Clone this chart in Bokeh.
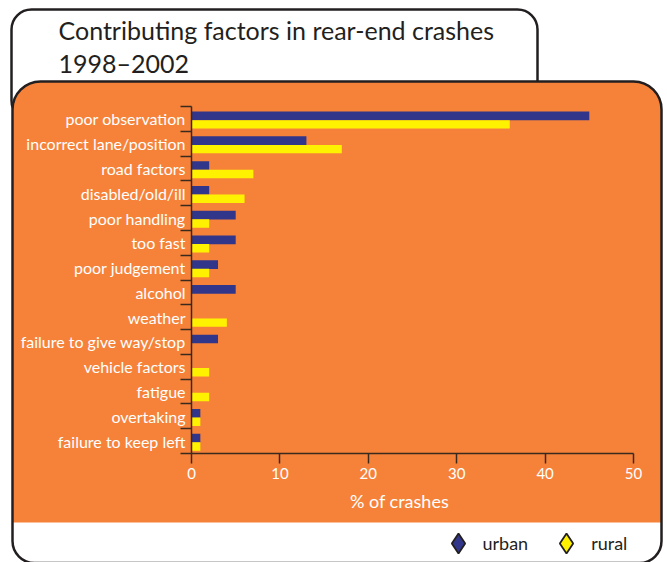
from bokeh.plotting import figure
from bokeh.models import (ColumnDataSource, Range1d, FixedTicker, BoxAnnotation,
                          Label, Legend, LegendItem)
from bokeh.transform import dodge
from bokeh.embed import file_html
from bokeh.resources import INLINE

# ---------------- data ----------------
categories = ["poor observation", "incorrect lane/position", "road factors",
              "disabled/old/ill", "poor handling", "too fast", "poor judgement",
              "alcohol", "weather", "failure to give way/stop", "vehicle factors",
              "fatigue", "overtaking", "failure to keep left"]
urban = [45, 13, 2, 2, 5, 5, 3, 5, 0, 3, 0, 0, 1, 1]
rural = [36, 17, 7, 6, 2, 2, 2, 0, 4, 0, 2, 2, 1, 1]
x_ticks = [0, 10, 20, 30, 40, 50]
series_names = ["urban", "rural"]
title_lines = ["Contributing factors in rear-end crashes", "1998\u20132002"]
x_label = "% of crashes"

# ---------------- style / layout ----------------
ORANGE = "#F6823A"
NAVY = "#31368A"
YELLOW = "#FFF200"
DARK = "#3a2a1e"
INK = "#231f20"
FONT = "Lato"

W, H = 667, 562
PL, PR, PT, PB = 191, 633, 106, 453      # plotting area in canvas pixels
X0, X1 = x_ticks[0], x_ticks[-1]

n = len(categories)
pos = [n - 1 - i for i in range(n)]
Y0, Y1 = -0.5, n - 0.5

kx = (PR - PL) / (X1 - X0)
ky = (PB - PT) / (Y1 - Y0)
x_range = Range1d(X0 - PL / kx, X1 + (W - PR) / kx)
y_range = Range1d(Y0 - (H - PB) / ky, Y1 + PT / ky)

source = ColumnDataSource(dict(y=pos, cat=categories, urban=urban, rural=rural))

p = figure(width=W, height=H, x_range=x_range, y_range=y_range,
           output_backend="svg", toolbar_location=None,
           min_border=0, background_fill_color="white", border_fill_color="white",
           outline_line_color=None)
p.title.visible = False
p.xgrid.visible = False
p.ygrid.visible = False


def sbox(l, t, r, b, **kw):
    # canvas pixel box (top-left origin) -> frame screen units
    return BoxAnnotation(left=l, right=r, top=H - t, bottom=H - b,
                         left_units="screen", right_units="screen",
                         top_units="screen", bottom_units="screen",
                         level="underlay", fill_alpha=1, line_alpha=1, **kw)


p.add_layout(sbox(11, 9, 537, 120, fill_color="white", line_color=INK,
                  line_width=2.5, border_radius=20))
p.add_layout(sbox(12, 81, 661, 522, fill_color=ORANGE, line_color=None,
                  border_radius=(28, 28, 0, 0)))
p.add_layout(sbox(12, 81, 661, 562.5, fill_color=None, line_color=INK,
                  line_width=2.5, border_radius=(28, 28, 22, 22)))

# bars
p.hbar(y=dodge("y", 0.12), left=0, right="urban", height=0.35, source=source,
       fill_color=NAVY, line_color=None)
p.hbar(y=dodge("y", -0.22), left=0, right="rural", height=0.34, source=source,
       fill_color=YELLOW, line_color=None)

# x axis
xa = p.xaxis[0]
xa.fixed_location = Y0
xa.bounds = (X0, X1)
xa.ticker = FixedTicker(ticks=x_ticks)
xa.axis_line_color = DARK
xa.axis_line_width = 1.5
xa.major_tick_line_color = DARK
xa.major_tick_line_width = 1.5
xa.major_tick_out = 10
xa.major_tick_in = 0
xa.minor_tick_line_color = None
xa.major_label_text_color = "white"
xa.major_label_text_font = FONT
xa.major_label_text_font_size = "15px"
xa.major_label_standoff = 4

# y axis: labels at category centres, ticks at boundaries
ya = p.yaxis[0]
ya.fixed_location = X0
ya.bounds = (Y0, Y1)
ya.ticker = FixedTicker(ticks=pos, minor_ticks=[k - 0.5 for k in range(n + 1)])
ya.major_label_overrides = {pv: c for pv, c in zip(pos, categories)}
ya.axis_line_color = DARK
ya.axis_line_width = 1.5
ya.major_tick_line_color = None
ya.major_tick_out = 0
ya.major_tick_in = 0
ya.minor_tick_line_color = DARK
ya.minor_tick_line_width = 1.5
ya.minor_tick_out = 11
ya.minor_tick_in = 0
ya.major_label_text_color = "white"
ya.major_label_text_font = FONT
ya.major_label_text_font_size = "16px"
ya.major_label_standoff = -5

# x axis title
p.add_layout(Label(x=399, y=H - 500, x_units="screen", y_units="screen",
                   text=x_label, text_font=FONT, text_font_size="18px",
                   text_color="white", text_baseline="middle", text_align="center"))

# chart title
for txt, mid in zip(title_lines, [29.5, 62.5]):
    p.add_layout(Label(x=58, y=H - mid, x_units="screen", y_units="screen",
                       text=txt, text_font=FONT, text_font_size="25px",
                       text_color=INK, text_baseline="middle", text_align="left"))

# legend (legend-only renderers with a single undefined point, never drawn)
legend_src = ColumnDataSource(dict(x=[float("nan")], y=[float("nan")]))
r_u = p.scatter(x="x", y="y", source=legend_src, marker="diamond",
                fill_color=NAVY, line_color=INK, line_width=1.8)
r_r = p.scatter(x="x", y="y", source=legend_src, marker="diamond",
                fill_color=YELLOW, line_color=INK, line_width=1.8)
G = 50
legend = Legend(items=[LegendItem(label=series_names[0], renderers=[r_u]),
                       LegendItem(label=series_names[1], renderers=[r_r])],
                location=(457.5 - G / 2, H - (543 + G / 2)),
                orientation="horizontal", glyph_width=G, glyph_height=G,
                label_standoff=0, spacing=13, padding=0, margin=0,
                border_line_color=None, background_fill_alpha=0,
                label_text_font=FONT, label_text_font_size="18px",
                label_text_color=INK)
p.add_layout(legend)

open("out.html", "w").write(file_html(p, INLINE))
